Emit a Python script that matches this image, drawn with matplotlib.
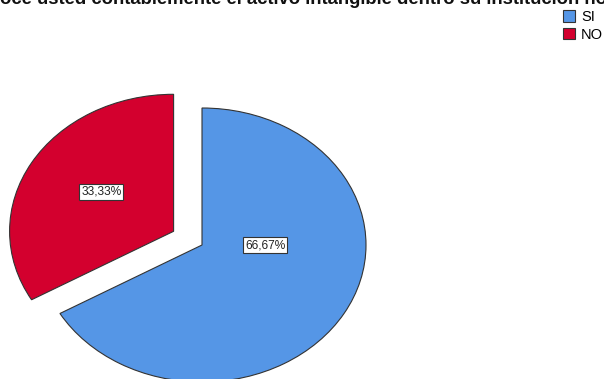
import matplotlib
matplotlib.use("Agg")
import matplotlib.pyplot as plt
from matplotlib.patches import Patch

categories = ["SI", "NO"]
values = [66.67, 33.33]
pct_labels = ["66,67%", "33,33%"]
colors = ["#5596E6", "#D3002E"]
title_hidden = "¿Recon"
title_shown = "oce usted contablemente el activo intangible dentro su institución hospitalaria?"

W, H = 604, 379
fig = plt.figure(figsize=(W / 100, H / 100), dpi=100)

# pie axes: unit radius = 164 px horizontally, 137 px vertically, centre at (202, 245)
rx, ry = 164, 137
cx, cy = 202, 245
span = 1.5
ax = fig.add_axes([(cx - span * rx) / W, (H - cy - span * ry) / H,
                   2 * span * rx / W, 2 * span * ry / H])

wedges, _ = ax.pie(values, colors=colors, startangle=90, counterclock=False,
                   explode=[0, 0.2], radius=1,
                   wedgeprops=dict(edgecolor="#333333", linewidth=0.8))
ax.set_aspect("auto")
ax.set_xlim(-span, span)
ax.set_ylim(-span, span)
ax.axis("off")

box = dict(boxstyle="square,pad=0.17", facecolor="white", edgecolor="#333333", linewidth=0.8)
label_pos = [(0.385, 0.0), (-0.441 - 0.173, 0.288 + 0.10)]
for lab, (x, y) in zip(pct_labels, label_pos):
    ax.text(x, y, lab, ha="center", va="center", fontsize=8.6,
            family="Liberation Sans", color="#222222", bbox=box)

# title, partly outside the canvas
ty = 1 - 4.5 / H
fig.text(0, ty, title_hidden, ha="right", va="baseline", fontsize=13.3,
         fontweight="bold", family="Liberation Sans", color="#111111")
fig.text(0, ty, title_shown, ha="left", va="baseline", fontsize=13.3,
         fontweight="bold", family="Liberation Sans", color="#111111")

handles = [Patch(facecolor=c, edgecolor="#333333", linewidth=0.8) for c in colors]
fig.legend(handles, categories, loc="upper left", bbox_to_anchor=(563 / W, 1 - 10 / H),
           frameon=False, prop=dict(family="Liberation Sans", size=10.5),
           handlelength=0.8, handleheight=0.8, handletextpad=0.45, labelspacing=0.25,
           borderaxespad=0, borderpad=0)

fig.savefig("out.png", dpi=100)
